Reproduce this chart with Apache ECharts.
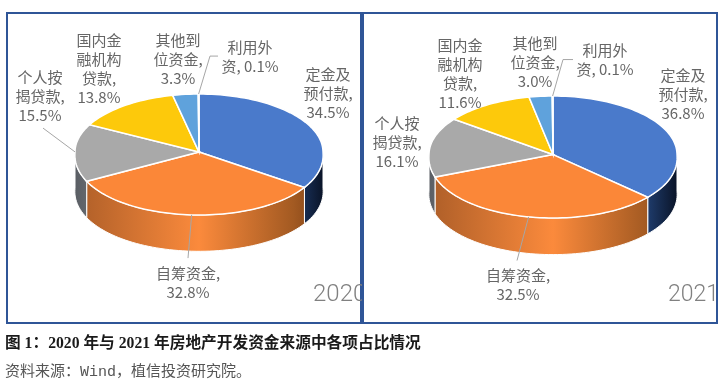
<!DOCTYPE html>
<html>
<head>
<meta charset="utf-8">
<style>html,body{margin:0;padding:0;background:#fff}#main{width:723px;height:389px}</style>
<script src="https://cdn.jsdelivr.net/npm/echarts@6/dist/echarts.min.js"></script>
</head>
<body>
<div id="main"></div>
<script>
var categories = ['定金及\n预付款', '自筹资金', '个人按\n揭贷款', '国内金\n融机构\n贷款', '其他到\n位资金', '利用外\n资'];
var separators = [',\n', ',\n', ',\n', ',\n', ',\n', ', '];
var values2020 = [34.5, 32.8, 15.5, 13.8, 3.3, 0.1];
var values2021 = [36.8, 32.5, 16.1, 11.6, 3.0, 0.1];
var years = ['2020', '2021'];

var topColors = ['#4a7acb', '#fb8738', '#a9a9a9', '#fdc90b', '#5fa2dc', '#4a7acb'];
// side wall colours across the pie width, at sideStops
var sideStops = [0, 0.5, 0.88, 1];
var sideColors = [
    ['#14233f', '#2f5597', '#1f3c6c', '#0a1428'],
    ['#ad5e28', '#fb8a3c', '#a35a22', '#7c4015'],
    ['#5a5e64', '#c0c0c0', '#6a6a6a', '#4a4a4a'],
    ['#8a6d05', '#fdc90b', '#8a6d05', '#6a5505'],
    ['#2f5c85', '#5fa2dc', '#2f5c85', '#1f3c60'],
    ['#14233f', '#2f5597', '#1f3c6c', '#0a1428']
];

// label offsets from the pie centre, px
var labelOffsets2020 = [[129, -59], [-11, 131], [-159, -56], [-100, -83], [-21, -93], [51, -95]];
var labelOffsets2021 = [[130, -60], [-35, 130], [-156, -12], [-93, -81], [-18, -92], [52, -95]];
// where a leader line ends (offset from centre), null = no line
var leaders2020 = [null, [[-11, 106]], [[-156, -24]], null, null, [[11, -96], [19, -96]]];
var leaders2021 = [null, [[-36, 106]], null, null, null, [[10, -95], [20, -95]]];

var depthUnits = 0.6;   // wall height, in y axis units
var apexShift = -0.04;  // the pie tip sits a bit above the middle of the ellipse
var frontFlare = 0.05;  // perspective: the near half is a little wider

function edgePoint(deg) {
    var r = deg * Math.PI / 180;
    var y = -Math.cos(r);
    var x = Math.sin(r) * (1 + frontFlare * Math.max(0, y));
    return [x, apexShift + y * (y < 0 ? 1 + apexShift : 1 - apexShift)];
}

function arcPoints(from, to, dy) {
    var pts = [];
    var n = Math.max(2, Math.ceil((to - from) / 2));
    for (var i = 0; i <= n; i++) {
        var p = edgePoint(from + (to - from) * i / n);
        pts.push([p[0], p[1] + dy]);
    }
    return pts;
}

function sliceRows(values) {
    var total = values.reduce(function (a, b) { return a + b; }, 0);
    var acc = 0;
    return values.map(function (v, i) {
        var start = acc / total * 360;
        acc += v;
        return [start, acc / total * 360, i];
    });
}

function slicesItem(params, api) {
    var a = api.value(0), b = api.value(1), i = api.value(2);
    var toPx = function (p) { return api.coord(p); };
    var children = [];
    var from = Math.max(a, 90), to = Math.min(b, 270);
    if (to > from) {
        var wall = arcPoints(from, to, 0).concat(arcPoints(from, to, depthUnits).reverse()).map(toPx);
        var x0 = api.coord([-1, 0])[0], x1 = api.coord([1, 0])[0];
        children.push({
            type: 'polygon',
            shape: { points: wall },
            style: {
                fill: new echarts.graphic.LinearGradient(x0, 0, x1, 0, sideStops.map(function (s, k) {
                    return { offset: s, color: sideColors[i][k] };
                }), true),
                stroke: '#fff',
                lineWidth: 1
            }
        });
    }
    var top = [[0, apexShift]].concat(arcPoints(a, b, 0)).map(toPx);
    children.push({
        type: 'polygon',
        shape: { points: top },
        style: { fill: topColors[i], stroke: '#fff', lineWidth: 1.5 },
        z2: 2
    });
    return { type: 'group', children: children };
}

function labelsItem(offsets, leaders, values) {
    return function (params, api) {
        var a = api.value(0), b = api.value(1), i = api.value(2);
        var c = api.coord([0, apexShift]);
        var children = [{
            type: 'text',
            x: c[0] + offsets[i][0],
            y: c[1] + offsets[i][1],
            style: {
                text: categories[i] + separators[i] + values[i].toFixed(1) + '%',
                fill: '#666',
                font: '15px "Noto Sans CJK SC"',
                lineHeight: 19,
                align: 'center',
                verticalAlign: 'middle'
            }
        }];
        if (leaders[i]) {
            var pts = [api.coord(edgePoint((a + b) / 2))];
            leaders[i].forEach(function (o) { pts.push([c[0] + o[0], c[1] + o[1]]); });
            children.push({
                type: 'polyline',
                shape: { points: pts },
                style: { fill: 'none', stroke: '#a6a6a6', lineWidth: 1 }
            });
        }
        return { type: 'group', children: children };
    };
}

var myChart = echarts.init(document.getElementById('main'), null, { renderer: 'canvas' });

var hiddenAxis = { type: 'value', min: -1, max: 1, show: false };
var frameColor = '#2f5597';

var option = {
    animation: false,
    grid: [
        { left: 75, top: 94, width: 248, height: 121 },
        { left: 429, top: 96, width: 248, height: 122 }
    ],
    xAxis: [
        Object.assign({ gridIndex: 0 }, hiddenAxis),
        Object.assign({ gridIndex: 1 }, hiddenAxis)
    ],
    yAxis: [
        Object.assign({ gridIndex: 0, inverse: true }, hiddenAxis),
        Object.assign({ gridIndex: 1, inverse: true }, hiddenAxis)
    ],
    graphic: [
        { type: 'rect', shape: { x: 7, y: 13, width: 354, height: 310 }, style: { fill: '#fff', stroke: frameColor, lineWidth: 2 } },
        { type: 'text', x: 313, y: 295, style: { text: years[0], fill: '#808080', font: '300 24px Roboto', verticalAlign: 'middle' } },
        { type: 'rect', shape: { x: 363, y: 13, width: 354, height: 310 }, style: { fill: '#fff', stroke: frameColor, lineWidth: 2 } },
        { type: 'text', x: 668, y: 295, style: { text: years[1], fill: '#808080', font: '300 23px Roboto', verticalAlign: 'middle' } },
        { type: 'text', x: 5, y: 344, style: { text: '图 1\uff1a2020 年与 2021 年房地产开发资金来源中各项占比情况', fill: '#1a1a1a', font: 'bold 15.7px "Liberation Serif","Noto Sans CJK SC"', verticalAlign: 'middle' } },
        { type: 'text', x: 5, y: 372, style: { text: '资料来源\uff1aWind\uff0c植信投资研究院。', fill: '#555', font: '15px "Liberation Mono","Noto Sans CJK SC"', verticalAlign: 'middle' } }
    ],
    series: [
        { type: 'custom', xAxisIndex: 0, yAxisIndex: 0, clip: false, data: sliceRows(values2020), renderItem: slicesItem },
        { type: 'custom', xAxisIndex: 1, yAxisIndex: 1, clip: false, data: sliceRows(values2021), renderItem: slicesItem },
        { type: 'custom', xAxisIndex: 0, yAxisIndex: 0, clip: false, z: 5, data: sliceRows(values2020), renderItem: labelsItem(labelOffsets2020, leaders2020, values2020) },
        { type: 'custom', xAxisIndex: 1, yAxisIndex: 1, clip: false, z: 5, data: sliceRows(values2021), renderItem: labelsItem(labelOffsets2021, leaders2021, values2021) }
    ]
};
myChart.setOption(option);
window.addEventListener("resize", function () {
    myChart.resize();
});
</script>
</body>
</html>
